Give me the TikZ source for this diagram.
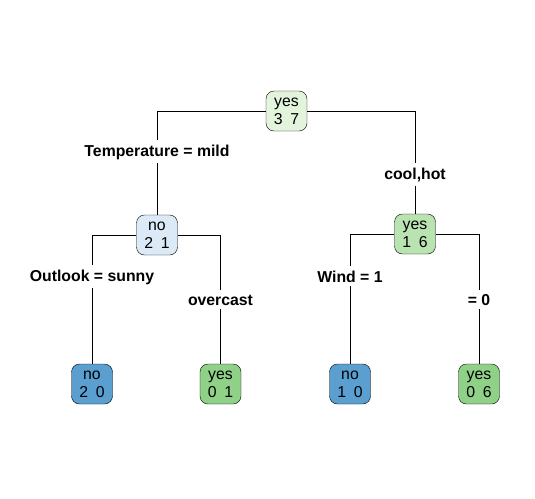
\documentclass[tikz,border=0pt]{standalone}
\usepackage{fontspec}
\setmainfont{Liberation Sans}
\usepackage{xcolor}
\usepackage{tikz}

\definecolor{rootgreen}{HTML}{E3F4DD}
\definecolor{paleblue}{HTML}{DCE9F6}
\definecolor{midgreen}{HTML}{B9E3B1}
\definecolor{leafblue}{HTML}{5A9FD0}
\definecolor{leafgreen}{HTML}{8ED187}

\begin{document}
\begin{tikzpicture}[
    x=1pt, y=-1pt,
    treenode/.style={draw, rectangle, rounded corners=8pt, minimum width=41pt, minimum height=40pt, inner sep=1pt, align=center, font=\fontsize{15.8}{18}\selectfont},
    split/.style={font=\fontsize{15.8}{18}\selectfont\bfseries, fill=white, inner sep=4pt, anchor=base},
    line/.style={draw, line width=0.5pt}
]
    \useasboundingbox (0,0) rectangle (535,498);

    % Nodes
    \node[treenode, fill=rootgreen] (root) at (286.5,111) {yes\\3\enspace 7};
    \node[treenode, fill=paleblue] (mild) at (157,235) {no\\2\enspace 1};
    \node[treenode, fill=midgreen] (coolhot) at (415,234) {yes\\1\enspace 6};
    \node[treenode, fill=leafblue] (sunny) at (92,384) {no\\2\enspace 0};
    \node[treenode, fill=leafgreen] (overcast) at (220.5,384) {yes\\0\enspace 1};
    \node[treenode, fill=leafblue] (windy) at (350,384) {no\\1\enspace 0};
    \node[treenode, fill=leafgreen] (calm) at (479,384) {yes\\0\enspace 6};

    % Split labels
    \node[split] (tempL) at (157,156) {Temperature = mild};
    \node[split] (tempR) at (415,179) {cool,hot};
    \node[split] (outL) at (92,281) {Outlook = sunny};
    \node[split] (outR) at (220.5,305) {overcast};
    \node[split] (windL) at (350,282) {Wind = 1};
    \node[split] (windR) at (479,305) {= 0};

    % Branches
    \draw[line] (root) -| (tempL);
    \draw[line] (root) -| (tempR);
    \draw[line] (tempL) -- (mild);
    \draw[line] (tempR) -- (coolhot);
    \draw[line] (mild) -| (outL);
    \draw[line] (mild) -| (outR);
    \draw[line] (outL) -- (sunny);
    \draw[line] (outR) -- (overcast);
    \draw[line] (coolhot) -| (windL);
    \draw[line] (coolhot) -| (windR);
    \draw[line] (windL) -- (windy);
    \draw[line] (windR) -- (calm);
\end{tikzpicture}
\end{document}
